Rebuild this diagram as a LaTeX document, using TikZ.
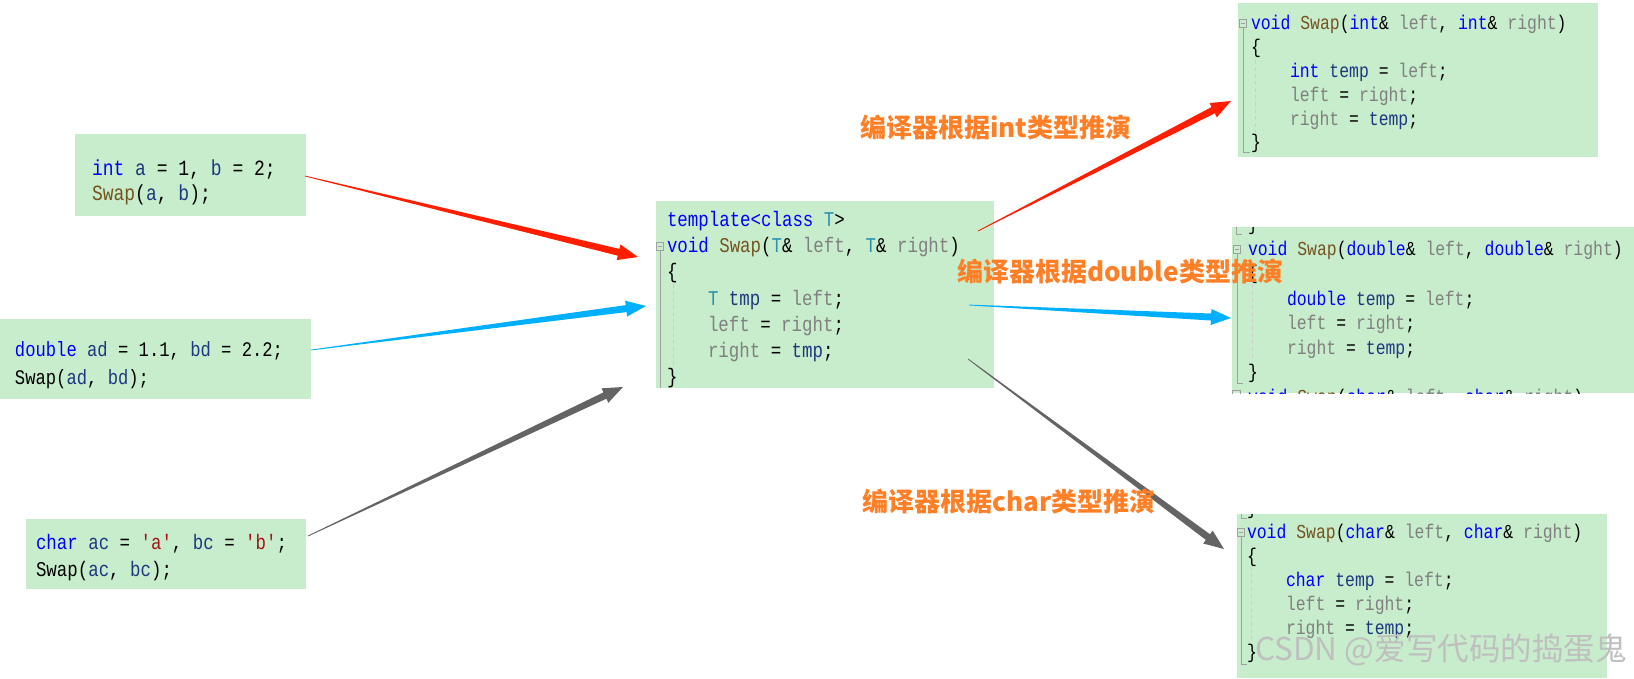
\documentclass[tikz,border=0pt]{standalone}
\usepackage{fontspec}
\usetikzlibrary{calc}
\newfontfamily\codefont{Liberation Mono}[FakeStretch=0.83]
\newfontfamily\cjkfont{Noto Sans CJK SC}
\definecolor{codebg}{RGB}{199,237,204}
\definecolor{kw}{RGB}{0,0,255}
\definecolor{fn}{RGB}{116,83,31}
\definecolor{par}{RGB}{128,128,128}
\definecolor{var}{RGB}{31,55,127}
\definecolor{typ}{RGB}{43,145,175}
\definecolor{strc}{RGB}{163,21,21}
\definecolor{lbl}{RGB}{255,127,39}
\definecolor{ared}{RGB}{255,30,0}
\definecolor{ablue}{RGB}{0,176,255}
\definecolor{agray}{RGB}{100,100,100}
\definecolor{guidec}{RGB}{160,160,160}
\definecolor{dguide}{RGB}{205,205,205}
\newcommand\Ckw[1]{\textcolor{kw}{#1}}
\newcommand\Cfn[1]{\textcolor{fn}{#1}}
\newcommand\Cpar[1]{\textcolor{par}{#1}}
\newcommand\Cvar[1]{\textcolor{var}{#1}}
\newcommand\Ctyp[1]{\textcolor{typ}{#1}}
\newcommand\Cstr[1]{\textcolor{strc}{#1}}
\newcommand\taperarrow[5]{%
  \path ($(#2)!20pt!(#1)$) coordinate (tc);
  \fill[#3] ($(#1)!0.4pt!90:(#2)$) -- ($(tc)!#4!90:(#2)$) -- ($(tc)!#5!90:(#2)$) -- (#2)
    -- ($(tc)!#5!-90:(#2)$) -- ($(tc)!#4!-90:(#2)$) -- ($(#1)!0.4pt!-90:(#2)$) -- cycle;}
\tikzset{
  x=1pt, y=-1pt,
  codebox/.style={fill=codebg, draw=none},
  codeline/.style={anchor=base west, inner sep=0pt, outer sep=0pt, text=black,
    font=\codefont\fontsize{#1}{#1}\selectfont},
  foldmark/.style={draw=guidec, line width=0.8pt, minimum width=7pt, minimum height=8pt, inner sep=0pt,
    path picture={\draw[guidec, line width=0.8pt] ($(path picture bounding box.west)+(1.5,0)$) -- ($(path picture bounding box.east)+(-1.5,0)$);}},
  guide/.style={draw=guidec, line width=1pt},
  dguideline/.style={draw=dguide, line width=1pt, dash pattern=on 4pt off 3pt},
  lab/.style={anchor=west, inner sep=0pt, text=lbl, font=\cjkfont\bfseries\fontsize{26}{26}\selectfont},
}
\begin{document}
\begin{tikzpicture}
\useasboundingbox (0,0) rectangle (1634,678);
% ---------- left boxes ----------
\fill[codebox] (75,134) rectangle (306,216);
\node[codeline=21.7] (b1a) at (92,175) {\Ckw{int} \Cvar{a} = 1, \Cvar{b} = 2;};
\node[codeline=21.7] (b1b) at (92,200) {\Cfn{Swap}(\Cvar{a}, \Cvar{b});};
\coordinate (b1out) at (305,176);

\fill[codebox] (0,319) rectangle (311,399);
\node[codeline=20.7] (b2a) at (15,356) {\Ckw{double} \Cvar{ad} = 1.1, \Cvar{bd} = 2.2;};
\node[codeline=20.7] (b2b) at (15,384) {Swap(\Cvar{ad}, \Cvar{bd});};
\coordinate (b2out) at (311,350);

\fill[codebox] (26,519) rectangle (306,589);
\node[codeline=21] (b3a) at (36,549) {\Ckw{char} \Cvar{ac} = \Cstr{'a'}, \Cvar{bc} = \Cstr{'b'};};
\node[codeline=21] (b3b) at (36,576) {Swap(\Cvar{ac}, \Cvar{bc});};
\coordinate (b3out) at (308,536);

% ---------- center box ----------
\fill[codebox] (656,201) rectangle (994,388);
\node[codeline=21] (c1) at (667,226) {\Ckw{template<class} \Ctyp{T}>};
\node[codeline=21] (c2) at (667,252) {\Ckw{void} \Cfn{Swap}(\Ctyp{T}\& \Cpar{left}, \Ctyp{T}\& \Cpar{right})};
\node[codeline=21] (c3) at (667,278) {\{};
\node[codeline=21] (c4) at (708,305) {\Ctyp{T} \Cvar{tmp} = \Cpar{left};};
\node[codeline=21] (c5) at (708,331) {\Cpar{left} = \Cpar{right};};
\node[codeline=21] (c6) at (708,357) {\Cpar{right} = \Cvar{tmp};};
\node[codeline=21] (c7) at (667,383) {\}};
\node[foldmark] (cf) at (660,246) {};
\draw[guide] (cf.south) -- (660,388);
\draw[dguideline] (673,284) -- (673,368);
\coordinate (cin1) at (638,257);
\coordinate (cin2) at (646,306);
\coordinate (cin3) at (623,387);
\coordinate (cout1) at (978,231);
\coordinate (cout2) at (969,305);
\coordinate (cout3) at (968,359);

% ---------- right int box ----------
\fill[codebox] (1238,3) rectangle (1598,157);
\node[codeline=19.8] (i1) at (1251,29) {\Ckw{void} \Cfn{Swap}(\Ckw{int}\& \Cpar{left}, \Ckw{int}\& \Cpar{right})};
\node[codeline=19.8] (i2) at (1251,53) {\{};
\node[codeline=19.8] (i3) at (1290,77) {\Ckw{int} \Cvar{temp} = \Cpar{left};};
\node[codeline=19.8] (i4) at (1290,101) {\Cpar{left} = \Cpar{right};};
\node[codeline=19.8] (i5) at (1290,125) {\Cpar{right} = \Cvar{temp};};
\node[codeline=19.8] (i6) at (1251,148) {\}};
\node[foldmark] (if) at (1243,23) {};
\draw[guide] (if.south) -- (1243,152) -- (1250,152);
\draw[dguideline] (1255,60) -- (1255,132);
\coordinate (iin) at (1231,101);

% ---------- right double box ----------
\fill[codebox] (1232,227) rectangle (1634,393);
\begin{scope}
\clip (1232,227) rectangle (1634,393);
\node[codeline=19.8] (d0) at (1248,230) {\}};
\draw[guide] (1236,200) -- (1236,234) -- (1242,234);
\node[codeline=19.8] (d7) at (1248,403) {\Ckw{void} \Cfn{Swap}(\Ckw{char}\& \Cpar{left}, \Ckw{char}\& \Cpar{right})};
\draw[draw=guidec, line width=0.8pt] (1232,390) rectangle (1240,398);
\end{scope}
\node[codeline=19.8] (d1) at (1248,255) {\Ckw{void} \Cfn{Swap}(\Ckw{double}\& \Cpar{left}, \Ckw{double}\& \Cpar{right})};
\node[codeline=19.8] (d2) at (1248,279) {\{};
\node[codeline=19.8] (d3) at (1287,305) {\Ckw{double} \Cvar{temp} = \Cpar{left};};
\node[codeline=19.8] (d4) at (1287,329) {\Cpar{left} = \Cpar{right};};
\node[codeline=19.8] (d5) at (1287,354) {\Cpar{right} = \Cvar{temp};};
\node[codeline=19.8] (d6) at (1248,378) {\}};
\node[foldmark] (df) at (1237,249) {};
\draw[guide] (df.south) -- (1237,383) -- (1243,383);
\draw[dguideline] (1252,284) -- (1252,360);
\coordinate (din) at (1231,318);

% ---------- right char box ----------
\fill[codebox] (1237,514) rectangle (1607,678);
\begin{scope}
\clip (1237,514) rectangle (1607,678);
\node[codeline=19.8] (h0) at (1247,514) {\}};
\draw[guide] (1241,490) -- (1241,518) -- (1247,518);
\end{scope}
\node[codeline=19.8] (h1) at (1247,538) {\Ckw{void} \Cfn{Swap}(\Ckw{char}\& \Cpar{left}, \Ckw{char}\& \Cpar{right})};
\node[codeline=19.8] (h2) at (1247,562) {\{};
\node[codeline=19.8] (h3) at (1286,586) {\Ckw{char} \Cvar{temp} = \Cpar{left};};
\node[codeline=19.8] (h4) at (1286,610) {\Cpar{left} = \Cpar{right};};
\node[codeline=19.8] (h5) at (1286,634) {\Cpar{right} = \Cvar{temp};};
\node[codeline=19.8] (h6) at (1247,658) {\}};
\node[foldmark] (hf) at (1241,532) {};
\draw[guide] (hf.south) -- (1241,664) -- (1247,664);
\draw[dguideline] (1251,566) -- (1251,642);
\coordinate (hin) at (1224,549);

% ---------- arrows ----------
\taperarrow{b1out}{cin1}{ared}{3.5pt}{8pt}
\taperarrow{b2out}{cin2}{ablue}{3.5pt}{8pt}
\taperarrow{b3out}{cin3}{agray}{3.5pt}{8pt}
\taperarrow{cout1}{iin}{ared}{3.5pt}{8pt}
\taperarrow{cout2}{din}{ablue}{3.5pt}{8pt}
\taperarrow{cout3}{hin}{agray}{3.5pt}{8pt}

% ---------- labels ----------
\node[lab] (l1) at (860,128) {编译器根据int类型推演};
\node[lab] (l2) at (957,272) {编译器根据double类型推演};
\node[lab] (l3) at (862,502) {编译器根据char类型推演};

% ---------- watermark ----------
\node[anchor=west, inner sep=0pt, text=black!25, font=\cjkfont\fontsize{31.5}{31.5}\selectfont] (wm) at (1255,650) {CSDN @爱写代码的捣蛋鬼};
\end{tikzpicture}
\end{document}
